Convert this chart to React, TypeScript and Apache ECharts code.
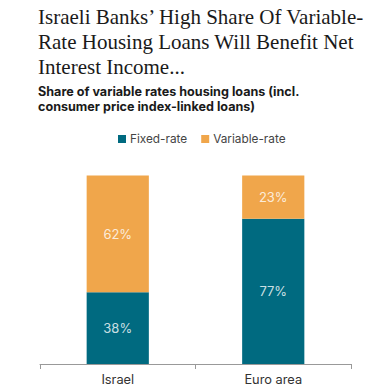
import React, { useEffect, useRef } from "react";
import * as echarts from "echarts";

const categories = ["Israel", "Euro area"];
const fixedRate = [38, 77];
const variableRate = [62, 23];
const seriesNames = ["Fixed-rate", "Variable-rate"];
const titleText = "Israeli Banks’ High Share Of Variable-\nRate Housing Loans Will Benefit Net\nInterest Income...";
const subtitleText = "Share of variable rates housing loans (incl.\nconsumer price index-linked loans)";

const SANS = "Inter, Open Sans, sans-serif";

export default function App() {
  const ref = useRef<HTMLDivElement>(null);
  useEffect(() => {
    const chart = echarts.init(ref.current!, null, { renderer: "svg" });
    const label = {
      show: true,
      position: "inside",
      formatter: (p: any) => p.value + "%",
      color: "rgba(255,255,255,0.8)",
      fontSize: 13,
      fontFamily: SANS,
    };
    chart.setOption({
      animation: false,
      backgroundColor: "#fff",
      title: [
        {
          text: titleText,
          left: 38,
          top: 4,
          padding: 0,
          textStyle: {
            fontFamily: "Liberation Serif, DejaVu Serif, serif",
            fontSize: 21,
            fontWeight: "normal",
            lineHeight: 25,
            color: "#1a1a1a",
          },
        },
        {
          text: subtitleText,
          left: 38,
          top: 84,
          padding: 0,
          textStyle: {
            fontFamily: SANS,
            fontSize: 12.6,
            fontWeight: "bold",
            lineHeight: 15,
            color: "#1a1a1a",
          },
        },
      ],
      legend: {
        data: seriesNames,
        top: 128,
        left: 113,
        itemWidth: 8,
        itemHeight: 8,
        itemGap: 14,
        icon: "rect",
        textStyle: { fontFamily: SANS, fontSize: 11.8, color: "#444", padding: [0, 0, 0, -1] },
      },
      grid: { left: 40, right: 27, top: 175.5, bottom: 25 },
      xAxis: {
        type: "category",
        data: categories,
        axisLine: { lineStyle: { color: "#999" } },
        axisTick: { show: true, length: 5, lineStyle: { color: "#999" } },
        axisLabel: { color: "#333", fontSize: 12.8, fontFamily: SANS, margin: 9 },
      },
      yAxis: { type: "value", min: 0, max: 100, show: false, splitLine: { show: false } },
      series: [
        {
          name: seriesNames[0],
          type: "bar",
          stack: "total",
          data: fixedRate,
          barWidth: "40%",
          itemStyle: { color: "#006a80" },
          label,
        },
        {
          name: seriesNames[1],
          type: "bar",
          stack: "total",
          data: variableRate,
          barWidth: "40%",
          itemStyle: { color: "#f0a64b" },
          label,
        },
      ],
    });
    return () => chart.dispose();
  }, []);
  return <div ref={ref} style={{ width: 378, height: 389, position: "absolute", left: 0, top: 0 }} />;
}
